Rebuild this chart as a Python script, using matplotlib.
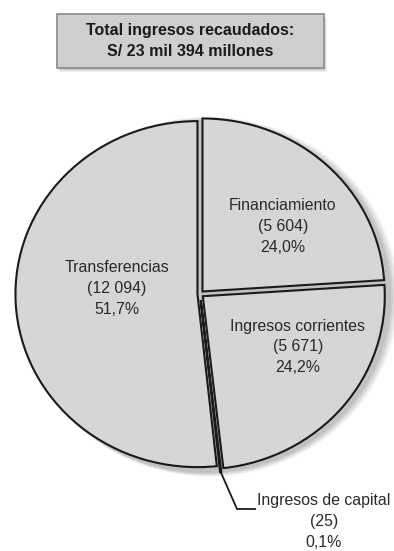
import matplotlib
matplotlib.use("Agg")
import matplotlib.pyplot as plt
from matplotlib.patches import Rectangle, Ellipse
import numpy as np

plt.rcParams['font.family'] = ['Liberation Sans', 'DejaVu Sans']

# Ingresos recaudados (millones de soles)
categorias = ["Transferencias", "Ingresos de capital", "Ingresos corrientes", "Financiamiento"]
montos = [12094, 25, 5671, 5604]
porcentajes = [51.7, 0.1, 24.2, 24.0]
montos_txt = ["12 094", "25", "5 671", "5 604"]
titulo = "Total ingresos recaudados:\nS/ 23 mil 394 millones"

colores = ["#d6d6d6", "#808080", "#d6d6d6", "#d6d6d6"]
separacion = [0.014, 0.035, 0.02, 0.02]

W, H = 394, 551
CX, CY = 200, 294      # pie centre, pixels from top-left
RX, RY = 182, 173      # pie is a bit wider than tall


def px(x, y):
    """pixel position -> data coords of the pie axes"""
    return (x - CX) / RX, (CY - y) / RY


def etiqueta(i):
    return f"{categorias[i]}\n({montos_txt[i]})\n{porcentajes[i]:.1f}%".replace(".", ",")


fig = plt.figure(figsize=(W / 100, H / 100), dpi=100)
ax = fig.add_axes([0, 0, 1, 1])

# soft shadow behind the pie, thrown to the lower right
for i, a in enumerate([0.06, 0.06, 0.05, 0.05, 0.04]):
    d = 0.01 * (i + 1)
    ax.add_patch(Ellipse((0.025 + d * 0.5, -0.015), 2.03 + d, 2.03 + d,
                         facecolor="#000000", alpha=a, edgecolor="none", zorder=0))

wedges, _ = ax.pie(montos, startangle=90, counterclock=True, colors=colores,
                   explode=separacion,
                   wedgeprops=dict(edgecolor="#1a1a1a", linewidth=1.5))
for w in wedges:
    w.set_zorder(2)

ax.set_aspect("auto")
ax.set_xlim(-CX / RX, (W - CX) / RX)
ax.set_ylim((CY - H) / RY, CY / RY)
ax.axis("off")

# labels inside the big slices
pos_etq = {0: (117, 289), 2: (298, 347), 3: (283, 226)}
for i, (x, y) in pos_etq.items():
    tx, ty = px(x, y)
    ax.text(tx, ty, etiqueta(i), ha="center", va="center", fontsize=11.4,
            color="#2a2a2a", linespacing=1.5, zorder=3)

# leader line for the small slice
w = wedges[1]
ang = np.deg2rad((w.theta1 + w.theta2) / 2)
x0 = w.center[0] + w.r * np.cos(ang)
y0 = w.center[1] + w.r * np.sin(ang)
x1, y1 = px(237, 509)
x2, _ = px(255, 509)
ax.plot([x0, x1, x2], [y0, y1, y1], color="#1a1a1a", lw=1.3, zorder=3)
tx, ty = px(324, 493)
ax.text(tx, ty, etiqueta(1), ha="center", va="top", fontsize=11.4,
        color="#2a2a2a", linespacing=1.5, zorder=3)

# title box with drop shadow
bx, by, bw, bh = 57, 14, 267, 54
for i, a in enumerate([0.08, 0.07, 0.06]):
    d = i + 1
    fig.patches.append(Rectangle(((bx + d) / W, 1 - (by + bh + d + 1) / H), bw / W, bh / H,
                                 transform=fig.transFigure, facecolor="#000000",
                                 alpha=a, edgecolor="none", zorder=0))
fig.patches.append(Rectangle((bx / W, 1 - (by + bh) / H), bw / W, bh / H,
                             transform=fig.transFigure, facecolor="#cfcfcf",
                             edgecolor="#8a8a8a", linewidth=1.2, zorder=1))
fig.text((bx + bw / 2) / W, 1 - (by + bh / 2) / H, titulo, ha="center", va="center",
         fontsize=11.5, fontweight="bold", color="#1a1a1a", linespacing=1.55)

fig.savefig("out.png", dpi=100, facecolor="white")
